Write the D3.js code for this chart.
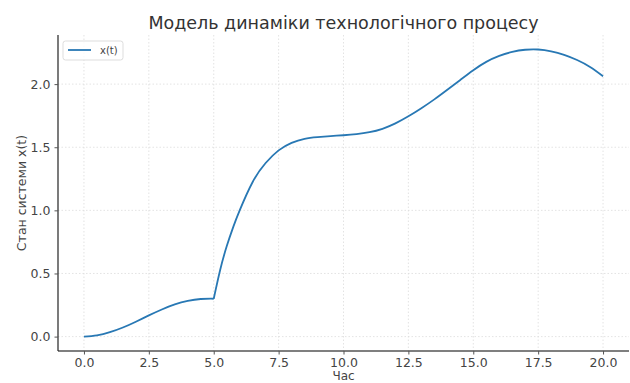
<!DOCTYPE html>
<html><head><meta charset="utf-8">
<script src="https://cdn.jsdelivr.net/npm/d3@7"></script>
<style>body{margin:0;background:#fff;}svg{display:block;font-family:"DejaVu Sans",sans-serif;}</style>
</head><body>
<script>
const title = "Модель динаміки технологічного процесу";
const xLabel = "Час";
const yLabel = "Стан системи x(t)";
const seriesName = "x(t)";
const tValues = [0,0.5,1,1.5,2,2.5,3,3.5,4,4.5,5,5.25,5.5,5.75,6,6.5,7,7.5,8,8.5,9,9.5,10,10.5,11,11.5,12,12.5,13,13.5,14,14.5,15,15.5,16,16.5,17,17.5,18,18.5,19,19.5,20];
const xValues = [0,0.01,0.035,0.072,0.118,0.168,0.215,0.255,0.283,0.298,0.30,0.53,0.715,0.867,1.0,1.225,1.375,1.475,1.535,1.567,1.58,1.588,1.595,1.604,1.619,1.646,1.689,1.745,1.809,1.879,1.955,2.033,2.11,2.176,2.223,2.255,2.272,2.274,2.26,2.232,2.191,2.136,2.063];
const breakT = 5;   // switching moment (kink in the curve)
const xTicks = [0,2.5,5,7.5,10,12.5,15,17.5,20];
const yTicks = [0,0.5,1.0,1.5,2.0];

const W = 630, H = 383;
const m = {left:58, right:1, top:35, bottom:32};
const svg = d3.select("body").append("svg").attr("width",W).attr("height",H);
const x = d3.scaleLinear().domain([-1,21]).range([m.left, W-m.right]);
const y = d3.scaleLinear().domain([-0.114,2.389]).range([H-m.bottom, m.top]);

// grid
const g = svg.append("g");
g.selectAll(".vg").data(xTicks).join("line")
  .attr("x1",d=>x(d)).attr("x2",d=>x(d)).attr("y1",m.top).attr("y2",H-m.bottom)
  .attr("stroke","#dcdcdc").attr("stroke-width",0.8).attr("stroke-dasharray","1.5,2");
g.selectAll(".hg").data(yTicks).join("line")
  .attr("y1",d=>y(d)).attr("y2",d=>y(d)).attr("x1",m.left).attr("x2",W-m.right)
  .attr("stroke","#dcdcdc").attr("stroke-width",0.8).attr("stroke-dasharray","1.5,2");

// axes
const xa = svg.append("g").attr("transform",`translate(0,${H-m.bottom})`)
  .call(d3.axisBottom(x).tickValues(xTicks).tickFormat(d3.format(".1f")).tickSize(3.5).tickPadding(4));
const ya = svg.append("g").attr("transform",`translate(${m.left},0)`)
  .call(d3.axisLeft(y).tickValues(yTicks).tickFormat(d3.format(".1f")).tickSize(3.5).tickPadding(4));
[xa,ya].forEach(a=>{
  a.select(".domain").attr("stroke","#555").attr("stroke-width",1.6);
  a.selectAll(".tick line").attr("stroke","#555");
  a.selectAll(".tick text").attr("fill","#444").style("font-size","12.5px").style("font-family","DejaVu Sans");
});
ya.select(".domain").attr("d",`M0,${m.top}V${H-m.bottom}`).attr("stroke","#222").attr("stroke-width",1.2);
xa.select(".domain").attr("d",`M${m.left},0H${W-m.right}`);

// line, drawn as two smooth pieces joined at the switching moment
const data = tValues.map((t,i)=>({t, v:xValues[i]}));
const pieces = [data.filter(d=>d.t<=breakT), data.filter(d=>d.t>=breakT)];
const lineGen = d3.line().x(d=>x(d.t)).y(d=>y(d.v)).curve(d3.curveNatural);
svg.append("path")
  .attr("fill","none").attr("stroke","#2878b4").attr("stroke-width",1.8).attr("stroke-linejoin","round")
  .attr("d", pieces.map(p=>lineGen(p)).join(""));

// labels
svg.append("text").attr("x",(m.left+W-m.right)/2).attr("y",28.5).attr("text-anchor","middle")
  .attr("fill","#333").style("font-size","17.5px").text(title);
svg.append("text").attr("x",(m.left+W-m.right)/2).attr("y",380).attr("text-anchor","middle")
  .attr("fill","#444").style("font-size","12px").text(xLabel);
svg.append("text").attr("transform",`translate(26,${(m.top+H-m.bottom)/2}) rotate(-90)`).attr("text-anchor","middle")
  .attr("fill","#444").style("font-size","12.5px").text(yLabel);

// legend
const lg = svg.append("g");
lg.append("rect").attr("x",63).attr("y",41).attr("width",60).attr("height",19).attr("rx",2.5)
  .attr("fill","#fff").attr("fill-opacity",0.8).attr("stroke","#ddd");
lg.append("line").attr("x1",68).attr("x2",91).attr("y1",50).attr("y2",50).attr("stroke","#2878b4").attr("stroke-width",1.8);
lg.append("text").attr("x",100).attr("y",54).attr("fill","#444").style("font-size","10px").text(seriesName);
</script>
</body></html>
